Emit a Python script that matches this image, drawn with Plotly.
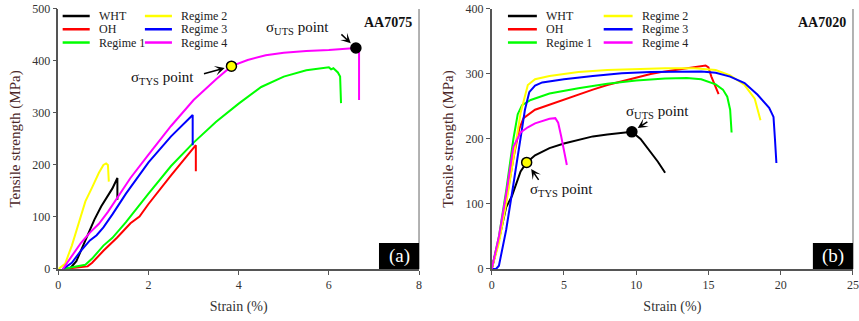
import plotly.graph_objects as go

# ---------------- AA7075 (panel a) ----------------
a_wht_x = [0.25, 0.4, 0.6, 0.8, 0.95, 1.1, 1.2, 1.31, 1.31]
a_wht_y = [0, 15, 55, 95, 120, 140, 155, 175, 133]
a_oh_x = [0.1, 0.4, 0.65, 0.75, 1.0, 1.3, 1.6, 1.8, 2.0, 2.5, 3.0, 3.05, 3.05]
a_oh_y = [0, 2, 5, 12, 35, 60, 88, 101, 125, 180, 234, 238, 188]
a_r1_x = [0.1, 0.3, 0.6, 0.75, 1.0, 1.2, 1.5, 2.0, 2.5, 3.0, 3.5, 4.0, 4.5, 5.0, 5.5, 6.0, 6.05, 6.1, 6.2, 6.25, 6.27]
a_r1_y = [0, 3, 8, 20, 45, 60, 90, 145, 198, 243, 283, 318, 350, 370, 382, 388, 384, 386, 378, 370, 319]
a_r2_x = [0.0, 0.15, 0.3, 0.45, 0.6, 0.75, 0.9, 1.0, 1.06, 1.1, 1.12]
a_r2_y = [0, 10, 45, 90, 130, 157, 185, 200, 203, 200, 168]
a_r3_x = [0.1, 0.3, 0.5, 0.7, 0.85, 1.0, 1.2, 1.5, 2.0, 2.5, 2.98, 2.98]
a_r3_y = [0, 12, 35, 55, 65, 80, 105, 145, 205, 255, 296, 238]
a_r4_x = [0.1, 0.3, 0.5, 0.7, 0.9, 1.1, 1.3, 1.6, 2.0, 2.5, 3.0, 3.5, 3.84, 4.2, 4.6, 5.0, 5.5, 6.0, 6.6, 6.67, 6.67]
a_r4_y = [0, 25, 50, 70, 87, 110, 135, 175, 220, 275, 325, 365, 390, 402, 411, 416, 419, 421, 425, 420, 325]
a_tys = (3.84, 390)
a_uts = (6.6, 425)

# ---------------- AA7020 (panel b) ----------------
b_wht_x = [0, 0.5, 1.0, 1.4, 2.0, 2.42, 3, 4, 5, 6, 7, 8, 9, 9.7, 10.3, 11, 11.5, 12.0]
b_wht_y = [0, 45, 95, 112, 150, 164, 175, 186, 193, 199, 204, 207, 210, 211, 200, 180, 165, 148]
b_oh_x = [0, 0.5, 1.0, 1.5, 1.9, 2.2, 3, 4, 5, 6, 7, 8, 9, 10, 11, 12, 13, 14, 14.8, 15.0, 15.2, 15.7]
b_oh_y = [0, 45, 105, 170, 215, 232, 245, 253, 261, 269, 276, 283, 289, 295, 300, 304, 307, 310, 313, 310, 296, 269]
b_r1_x = [0, 0.5, 1.0, 1.5, 1.8, 2.1, 2.7, 4, 6, 8, 10, 12, 13.5, 14.5, 15.5, 16.0, 16.3, 16.5, 16.6]
b_r1_y = [0, 50, 120, 200, 238, 252, 260, 270, 278, 285, 290, 293, 294, 292, 284, 276, 265, 245, 210]
b_r2_x = [0, 0.5, 1.0, 1.5, 2.0, 2.5, 3.0, 4, 6, 8, 10, 12, 14, 15.5, 16.5, 17.5, 18.2, 18.6]
b_r2_y = [0, 40, 100, 170, 240, 283, 292, 297, 303, 306, 308, 309, 309, 306, 298, 283, 262, 229]
b_r3_x = [0, 0.3, 0.5, 1.0, 1.5, 2.0, 2.3, 2.6, 3.0, 3.5, 5, 7, 9, 11, 13, 14.5, 15.5, 16.5, 17.5, 18.4, 19.2, 19.5, 19.6, 19.7]
b_r3_y = [0, 0, 5, 60, 130, 200, 245, 272, 282, 287, 292, 297, 301, 303, 304, 304, 302, 296, 286, 268, 248, 234, 200, 163]
b_r4_x = [0, 0.5, 1.0, 1.3, 1.5, 2.0, 2.5, 3.0, 3.5, 4.0, 4.4, 4.6, 4.8, 5.0, 5.2]
b_r4_y = [0, 50, 115, 160, 188, 210, 218, 224, 228, 231, 232, 225, 205, 180, 160]
b_tys = (2.42, 164)
b_uts = (9.7, 211)

names = ["WHT", "OH", "Regime 1", "Regime 2", "Regime 3", "Regime 4"]
colors = ["#000000", "#ff0000", "#00ff00", "#ffff00", "#0000ff", "#ff00ff"]

a_series = [(a_wht_x, a_wht_y), (a_oh_x, a_oh_y), (a_r1_x, a_r1_y),
            (a_r2_x, a_r2_y), (a_r3_x, a_r3_y), (a_r4_x, a_r4_y)]
b_series = [(b_wht_x, b_wht_y), (b_oh_x, b_oh_y), (b_r1_x, b_r1_y),
            (b_r2_x, b_r2_y), (b_r3_x, b_r3_y), (b_r4_x, b_r4_y)]

FONT = "Times New Roman"

fig = go.Figure()
for (xs, ys), n, c in zip(a_series, names, colors):
    fig.add_trace(go.Scatter(x=xs, y=ys, mode="lines", name=n, line=dict(color=c, width=2),
                             xaxis="x", yaxis="y", showlegend=False))
for (xs, ys), n, c in zip(b_series, names, colors):
    fig.add_trace(go.Scatter(x=xs, y=ys, mode="lines", name=n, line=dict(color=c, width=2),
                             xaxis="x2", yaxis="y2", showlegend=False))

for pt, col, xa, ya in [(a_tys, "#ffff00", "x", "y"), (a_uts, "#000000", "x", "y"),
                        (b_tys, "#ffff00", "x2", "y2"), (b_uts, "#000000", "x2", "y2")]:
    fig.add_trace(go.Scatter(x=[pt[0]], y=[pt[1]], mode="markers", xaxis=xa, yaxis=ya,
                             marker=dict(color=col, size=10, line=dict(color="#000000", width=1.5)),
                             showlegend=False))

axis_common = dict(showline=True, linecolor="#555555", linewidth=1.5, ticks="outside",
                   ticklen=4, tickcolor="#555555", showgrid=False, zeroline=False, automargin=False,
                   tickfont=dict(family=FONT, size=12, color="#333333"))

xt = dict(text="Strain (%)", font=dict(family=FONT, size=14, color="#333333"), standoff=10)
yt = dict(text="Tensile strength (MPa)", font=dict(family=FONT, size=15, color="#4a2626"), standoff=8)

fig.update_layout(
    width=859, height=321, margin=dict(l=0, r=0, t=0, b=0, autoexpand=False),
    plot_bgcolor="white", paper_bgcolor="white",
    font=dict(family=FONT),
    xaxis=dict(domain=[0.0679, 0.4878], range=[0, 8], dtick=2, anchor="y", title=xt, **axis_common),
    yaxis=dict(domain=[0.162, 0.972], range=[0, 500], dtick=100, anchor="x", title=yt, **axis_common),
    xaxis2=dict(domain=[0.5724, 0.993], range=[0, 25], dtick=5, anchor="y2", title=xt, **axis_common),
    yaxis2=dict(domain=[0.162, 0.972], range=[0, 400], dtick=100, anchor="x2", title=yt, **axis_common),
)

shapes = []
annotations = []

for xa, ya in [("x", "y"), ("x2", "y2")]:
    shapes.append(dict(type="line", xref=f"{xa} domain", yref=f"{ya} domain", x0=1, x1=1, y0=0, y1=1,
                       line=dict(color="#999999", width=1.5)))

def add_legend(xa, ya, col1_x0, col2_x0, line_len, text_gap):
    rows = [0.973, 0.922, 0.871]
    for i, (n, c) in enumerate(zip(names, colors)):
        cx = col1_x0 if i < 3 else col2_x0
        ry = rows[i % 3]
        shapes.append(dict(type="line", xref=f"{xa} domain", yref=f"{ya} domain",
                           x0=cx, x1=cx + line_len, y0=ry, y1=ry, line=dict(color=c, width=2.5)))
        annotations.append(dict(xref=f"{xa} domain", yref=f"{ya} domain", x=cx + line_len + text_gap, y=ry,
                                text=n, showarrow=False, xanchor="left", yanchor="middle",
                                font=dict(family=FONT, size=12, color="#222222")))

add_legend("x", "y", 0.012, 0.24, 0.075, 0.02)
add_legend("x2", "y2", 0.045, 0.31, 0.08, 0.02)

for xa, ya, t in [("x", "y", "AA7075"), ("x2", "y2", "AA7020")]:
    annotations.append(dict(xref=f"{xa} domain", yref=f"{ya} domain", x=0.985, y=0.985, text=f"<b>{t}</b>",
                            showarrow=False, xanchor="right", yanchor="top",
                            font=dict(family=FONT, size=14, color="#111111")))

for xa, ya, t in [("x", "y", "(a)"), ("x2", "y2", "(b)")]:
    shapes.append(dict(type="rect", xref=f"{xa} domain", yref=f"{ya} domain", x0=0.889, x1=1, y0=0, y1=0.1,
                       fillcolor="#000000", line=dict(width=0)))
    annotations.append(dict(xref=f"{xa} domain", yref=f"{ya} domain", x=0.9445, y=0.05, text=t,
                            showarrow=False, xanchor="center", yanchor="middle",
                            font=dict(family=FONT, size=19, color="#ffffff")))

def add_point_label(xa, ya, pt, ax, ay, sd, tx, ty, txt):
    annotations.append(dict(xref=xa, yref=ya, x=pt[0], y=pt[1], ax=ax, ay=ay, text="", showarrow=True,
                            arrowhead=3, arrowsize=1.1, arrowwidth=1.5, arrowcolor="#000000", standoff=sd))
    annotations.append(dict(xref=xa, yref=ya, x=tx, y=ty, text=txt, showarrow=False,
                            xanchor="center", yanchor="middle",
                            font=dict(family=FONT, size=15, color="#111111")))

add_point_label("x", "y", a_tys, -29, 8, 7, 2.3, 368, "σ<sub>TYS</sub> point")
add_point_label("x", "y", a_uts, -16, -15, 7, 5.3, 463, "σ<sub>UTS</sub> point")
add_point_label("x2", "y2", b_uts, 17, -11, 7, 11.45, 242, "σ<sub>UTS</sub> point")
add_point_label("x2", "y2", b_tys, 13, 19, 8, 4.85, 122, "σ<sub>TYS</sub> point")

fig.update_layout(shapes=shapes, annotations=annotations)
fig.write_html("out.html", config={"displayModeBar": False},
               post_script="document.body.style.margin='0';document.body.style.padding='0';")
